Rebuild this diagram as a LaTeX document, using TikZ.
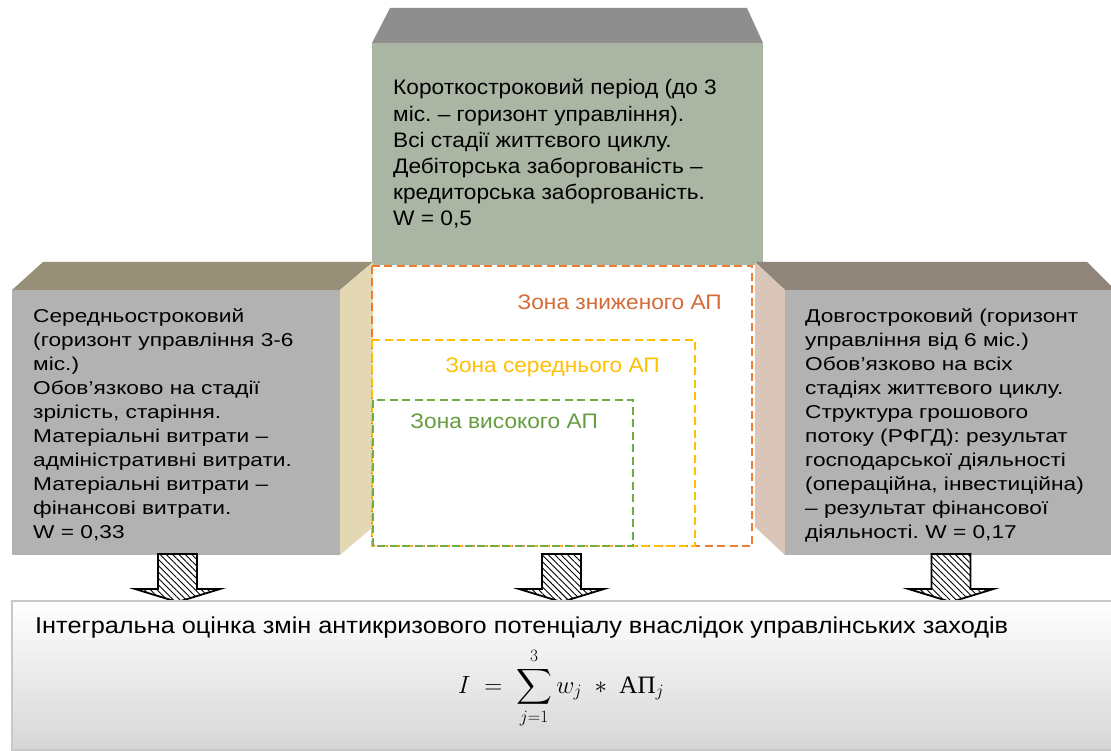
\documentclass[tikz,border=0pt]{standalone}
\usepackage{amsmath}
\usepackage{fontspec}
\setmainfont{Liberation Sans}
\newfontfamily\sidefont[FakeStretch=1.22]{Liberation Sans}
\newfontfamily\topfont[FakeStretch=1.08]{Liberation Sans}
\newfontfamily\zonefont[FakeStretch=1.08]{Liberation Sans}
\newfontfamily\botfont[FakeStretch=1.1]{Liberation Sans}
\newfontfamily\serifcyr{Liberation Serif}
\frenchspacing
\usetikzlibrary{patterns.meta}
\definecolor{topface}{RGB}{142,142,142}
\definecolor{topfront}{RGB}{170,181,164}
\definecolor{ltop}{RGB}{151,143,120}
\definecolor{lside}{RGB}{227,215,180}
\definecolor{frontgray}{RGB}{178,178,178}
\definecolor{rtop}{RGB}{143,133,123}
\definecolor{rside}{RGB}{218,198,184}
\definecolor{zorange}{RGB}{237,125,49}
\definecolor{zorangetext}{RGB}{212,106,53}
\definecolor{zyellow}{RGB}{255,192,0}
\definecolor{zgreen}{RGB}{112,173,71}
\definecolor{bbot}{RGB}{214,214,214}
\definecolor{bborder}{RGB}{200,200,200}
\begin{document}
\begin{tikzpicture}[x=1pt,y=-1pt,
  txt/.style={anchor=base west,inner sep=0pt},
  zonedash/.style={line width=1.8pt,dash pattern=on 8pt off 4.5pt},
  zonelabel/.style={anchor=base east,inner sep=0pt,font=\zonefont\fontsize{21}{25}\selectfont},
  hatcharrow/.style={line width=1.8pt,draw=black,preaction={fill=white},
    pattern={Lines[angle=-45,distance=4.5pt,line width=0.9pt]},pattern color=black,line join=miter},
  downarr/.pic={\draw[hatcharrow] (-19.5,0) -- (19.5,0) -- (19.5,35) -- (42.5,35) -- (0,48) -- (-42.5,35) -- (-19.5,35) -- cycle;}
]
\useasboundingbox (0,0) rectangle (1111,751);
\fill[white] (0,0) rectangle (1111,751);

% top box (short-term)
\fill[topface] (390,8) -- (747,8) -- (763,43) -- (372,43) -- cycle;
\fill[topfront] (372,43) rectangle (763,265);
\node[txt] (T) at (393,95) {\parbox[t]{365pt}{\topfont\fontsize{21}{26.2}\selectfont\raggedright\frenchspacing
Короткостроковий період (до 3\\
міс. – горизонт управління).\\
Всі стадії життєвого циклу.\\
Дебіторська заборгованість –\\
кредиторська заборгованість.\\
W = 0,5}};

% left box (mid-term)
\fill[ltop] (43,262) -- (373,262) -- (340,290) -- (12,290) -- cycle;
\fill[lside] (340,290) -- (373,262) -- (373,527) -- (340,555) -- cycle;
\fill[frontgray] (12,290) rectangle (340,555);
\node[txt] (L) at (33,323) {\parbox[t]{300pt}{\sidefont\fontsize{18.6}{23.9}\selectfont\raggedright\frenchspacing
Середньостроковий\\
(горизонт управління 3-6\\
міс.)\\
Обов’язково на стадії\\
зрілість, старіння.\\
Матеріальні витрати –\\
адміністративні витрати.\\
Матеріальні витрати –\\
фінансові витрати.\\
W = 0,33}};

% right box (long-term)
\fill[rtop] (755,262) -- (1087,262) -- (1115,290) -- (785,290) -- cycle;
\fill[rside] (755,262) -- (785,290) -- (785,555) -- (755,527) -- cycle;
\fill[frontgray] (785,290) rectangle (1115,555);
\node[txt] (R) at (805,323) {\parbox[t]{300pt}{\sidefont\fontsize{18.6}{23.9}\selectfont\raggedright\frenchspacing
Довгостроковий (горизонт\\
управління від 6 міс.)\\
Обов’язково на всіх\\
стадіях життєвого циклу.\\
Структура грошового\\
потоку (РФГД): результат\\
господарської діяльності\\
(операційна, інвестиційна)\\
– результат фінансової\\
діяльності. W = 0,17}};

% zones
\draw[zonedash,zorange] (372,266) rectangle (752,546);
\draw[zonedash,zyellow] (372,340) rectangle (695,546);
\draw[zonedash,zgreen] (373,400) rectangle (633,546);
\node[zonelabel,text=zorangetext] (Z1) at (722,310) {Зона зниженого АП};
\node[zonelabel,text=zyellow] (Z2) at (660,372) {Зона середнього АП};
\node[zonelabel,text=zgreen!90!black] (Z3) at (598,428) {Зона високого АП};

% arrows
\pic at (177.5,554) {downarr};
\pic at (561.5,554) {downarr};
\pic at (951,554) {downarr};

% bottom box
\draw[draw=bborder,line width=1.2pt,top color=white,bottom color=bbot] (12,601) rectangle (1120,750);
\node[txt] (B) at (35,633) {\botfont\fontsize{23}{27}\selectfont Інтегральна оцінка змін антикризового потенціалу внаслідок управлінських заходів};
\node[anchor=base,inner sep=0pt] (F) at (561,693) {\fontsize{25}{30}\selectfont$\displaystyle I \;=\; \sum_{j=1}^{3} w_j \;\ast\; \mbox{\serifcyr АП}_j$};
\end{tikzpicture}
\end{document}
